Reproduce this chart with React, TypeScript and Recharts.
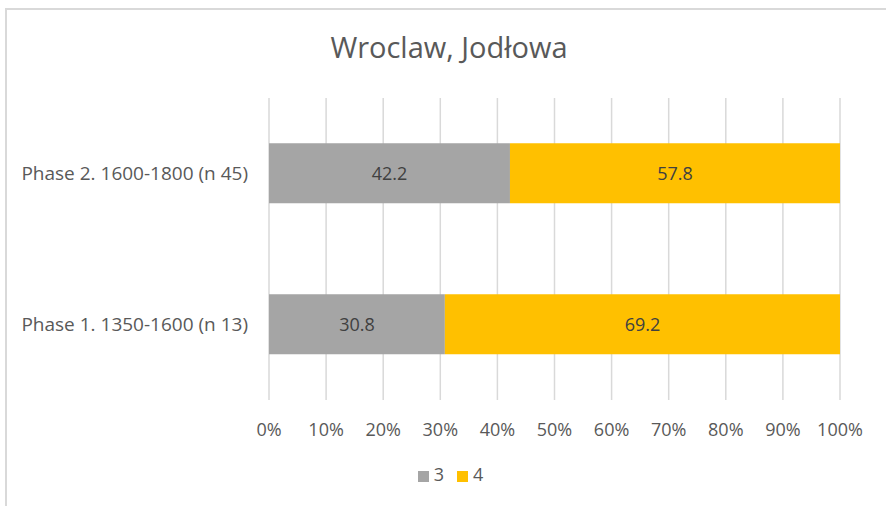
import { BarChart, Bar, XAxis, YAxis, CartesianGrid, Legend, LabelList } from 'recharts';

const phases = ['Phase 2. 1600-1800 (n 45)', 'Phase 1. 1350-1600 (n 13)'];
const grade3 = [42.2, 30.8];
const grade4 = [57.8, 69.2];
const xTicks = [0, 10, 20, 30, 40, 50, 60, 70, 80, 90, 100];

const data = phases.map((phase, i) => ({ phase, g3: grade3[i], g4: grade4[i] }));

const FONT = '"Open Sans", sans-serif';

export default function App() {
  return (
    <div style={{ position: 'fixed', left: 0, top: 0, width: 886, height: 506, background: '#fff', fontFamily: FONT }}>
      <div
        style={{
          position: 'absolute', left: 5, top: 8, right: -2, bottom: -2,
          borderLeft: '2px solid #D9D9D9', borderTop: '2px solid #D9D9D9',
        }}
      />
      <div style={{ position: 'absolute', left: 0, width: 898, top: 27, textAlign: 'center', fontSize: 29, color: '#595959' }}>
        Wroclaw, Jodłowa
      </div>
      <div style={{ position: 'absolute', left: 0, top: 0 }}>
        <BarChart
          width={886}
          height={506}
          data={data}
          layout="vertical"
          barCategoryGap="30%"
          margin={{ top: 98, right: 46, bottom: 32, left: 8 }}
        >
          <CartesianGrid horizontal={false} stroke="#D9D9D9" strokeWidth={1.5} />
          <XAxis
            type="number"
            domain={[0, 100]}
            ticks={xTicks}
            tickFormatter={(v) => `${v}%`}
            axisLine={false}
            tickLine={false}
            tickSize={0}
            tickMargin={23}
            height={50}
            tick={{ fill: '#595959', fontSize: 18, fontFamily: FONT }}
          />
          <YAxis
            type="category"
            dataKey="phase"
            width={261}
            axisLine={false}
            tickLine={false}
            tickSize={0}
            tickMargin={21}
            tick={{ fill: '#595959', fontSize: 19, fontFamily: FONT }}
          />
          <Legend
            iconType="square"
            iconSize={11}
            wrapperStyle={{ top: 462, left: 41, fontSize: 18, fontFamily: FONT }}
            formatter={(value) => <span style={{ color: '#595959', marginLeft: 1, marginRight: 3 }}>{value}</span>}
          />
          <Bar dataKey="g3" name="3" stackId="a" fill="#A5A5A5" isAnimationActive={false}>
            <LabelList dataKey="g3" position="center" fill="#404040" fontSize={18} fontFamily={FONT} />
          </Bar>
          <Bar dataKey="g4" name="4" stackId="a" fill="#FFC000" isAnimationActive={false}>
            <LabelList dataKey="g4" position="center" fill="#404040" fontSize={18} fontFamily={FONT} />
          </Bar>
        </BarChart>
      </div>
    </div>
  );
}
